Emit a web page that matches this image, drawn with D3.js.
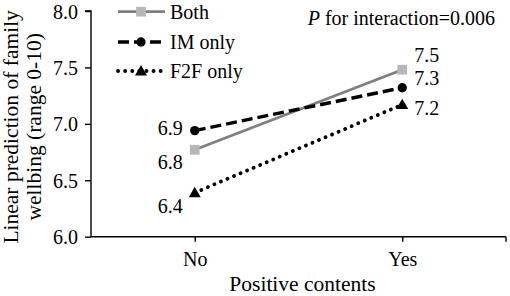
<!DOCTYPE html>
<html>
<head>
<meta charset="utf-8">
<script src="https://cdn.jsdelivr.net/npm/d3@7"></script>
<style>
  html, body { margin: 0; padding: 0; background: #fff; }
  svg text { fill: #000; }
</style>
</head>
<body>
<svg id="chart" width="510" height="296"></svg>
<script>
// ---- data ----
const categories = ["No", "Yes"];
const seriesNames = ["Both", "IM only", "F2F only"];
const bothValues = [6.77, 7.48];
const imValues = [6.94, 7.32];
const f2fValues = [6.39, 7.17];
const yTicks = [6.0, 6.5, 7.0, 7.5, 8.0];
const annotation = "for interaction=0.006";
const xTitle = "Positive contents";
const yTitleLines = ["Linear prediction of family", "wellbing (range 0-10)"];

// ---- styles ----
const FONT = "'Liberation Serif', 'Times New Roman', Times, 'DejaVu Serif', serif";
const styles = {
  "Both":     { stroke: "#7f7f7f", width: 2.8, dash: null, cap: "butt", marker: "square", fill: "#b7b7b7" },
  "IM only":  { stroke: "#000", width: 3.4, dash: "11,5", cap: "butt", marker: "circle", fill: "#000" },
  "F2F only": { stroke: "#000", width: 3.8, dash: "0.1,7", cap: "round", marker: "triangle", fill: "#000" }
};
// data label offsets [left point, right point] as [dx, dy]
const labelOffsets = {
  "Both":     [[-12, 19], [12, -8]],
  "IM only":  [[-12, 4],  [12, -3]],
  "F2F only": [[-12, 20], [12, 10]]
};

const series = [
  { name: seriesNames[0], values: bothValues },
  { name: seriesNames[1], values: imValues },
  { name: seriesNames[2], values: f2fValues }
];

const svg = d3.select("#chart");
const mLeft = 91, mRight = 506, mTop = 11, mBottom = 236.7;
const fs = 20, fsTitle = 21.5;

const x = d3.scalePoint().domain(categories).range([mLeft, mRight]).padding(0.5);
const y = d3.scaleLinear().domain([6, 8]).range([mBottom, mTop]);

function txt(sel, size) {
  return sel.attr("font-family", FONT).style("font-family", FONT).style("font-size", (size || fs) + "px");
}

// y axis
const yAxis = svg.append("g").attr("transform", `translate(${mLeft},0)`)
  .call(d3.axisLeft(y).tickValues(yTicks).tickFormat(d3.format(".1f")).tickSize(6).tickPadding(7));
yAxis.attr("font-family", FONT).attr("font-size", fs);
yAxis.select(".domain").attr("stroke", "#000").attr("stroke-width", 1.4).attr("d", `M-6,${mTop}H0V${mBottom}`);
yAxis.selectAll(".tick line").attr("stroke", "#000").attr("stroke-width", 1.4);
txt(yAxis.selectAll(".tick text")).attr("dy", "0.35em");

// x axis
const xAxis = svg.append("g").attr("transform", `translate(0,${mBottom})`)
  .call(d3.axisBottom(x).tickSize(5).tickPadding(10));
xAxis.attr("font-family", FONT).attr("font-size", fs);
xAxis.select(".domain").attr("stroke", "#000").attr("stroke-width", 1.4).attr("d", `M${mLeft},0H${mRight}`);
xAxis.selectAll(".tick line").attr("stroke", "#000").attr("stroke-width", 1.4);
txt(xAxis.selectAll(".tick text"));
xAxis.append("line").attr("x1", mRight).attr("x2", mRight).attr("y1", 0).attr("y2", 5)
  .attr("stroke", "#000").attr("stroke-width", 1.4);

// axis titles
txt(svg.append("text").attr("x", 302.5).attr("y", 291)
  .attr("text-anchor", "middle"), fsTitle).text(xTitle);
const yt = txt(svg.append("text").attr("transform", `translate(18,${(mTop + mBottom) / 2 + 3}) rotate(-90)`)
  .attr("text-anchor", "middle"), fsTitle);
yTitleLines.forEach((t, i) => {
  yt.append("tspan").attr("x", 0).attr("y", i * 23).text(t);
});

// lines
const line = d3.line().x((d, i) => x(categories[i])).y(d => y(d));
const sym = {
  square: d3.symbol().type(d3.symbolSquare).size(95),
  circle: d3.symbol().type(d3.symbolCircle).size(68),
  triangle: d3.symbol().type(d3.symbolTriangle).size(62)
};

series.forEach(s => {
  const st = styles[s.name];
  svg.append("path").datum(s.values).attr("d", line)
    .attr("fill", "none").attr("stroke", st.stroke).attr("stroke-width", st.width)
    .attr("stroke-dasharray", st.dash).attr("stroke-linecap", st.cap);
});
series.forEach(s => {
  const st = styles[s.name];
  svg.selectAll(null).data(s.values).enter().append("path")
    .attr("d", sym[st.marker]())
    .attr("transform", (d, i) => `translate(${x(categories[i])},${y(d) + (st.marker === "triangle" ? 1 : 0)})`)
    .attr("fill", st.fill);
  txt(svg.selectAll(null).data(s.values).enter().append("text")
    .attr("x", (d, i) => x(categories[i]) + labelOffsets[s.name][i][0])
    .attr("y", (d, i) => y(d) + labelOffsets[s.name][i][1])
    .attr("text-anchor", (d, i) => i === 0 ? "end" : "start"))
    .text(d => d3.format(".1f")(d));
});

// legend
const legendY = [11.7, 42, 71];
series.forEach((s, i) => {
  const st = styles[s.name];
  const g = svg.append("g").attr("transform", `translate(0,${legendY[i]})`);
  g.append("line").attr("x1", 118).attr("x2", 165).attr("y1", 0).attr("y2", 0)
    .attr("stroke", st.stroke).attr("stroke-width", st.width)
    .attr("stroke-dasharray", st.dash).attr("stroke-linecap", st.cap);
  g.append("path").attr("d", sym[st.marker]())
    .attr("transform", `translate(141,${st.marker === "triangle" ? 1 : 0})`).attr("fill", st.fill);
  txt(g.append("text").attr("x", 170).attr("y", 7)).text(s.name);
});

// annotation
const ann = txt(svg.append("text").attr("x", 495).attr("y", 25).attr("text-anchor", "end"));
ann.append("tspan").style("font-style", "italic").text("P");
ann.append("tspan").text(" " + annotation);
</script>
</body>
</html>
